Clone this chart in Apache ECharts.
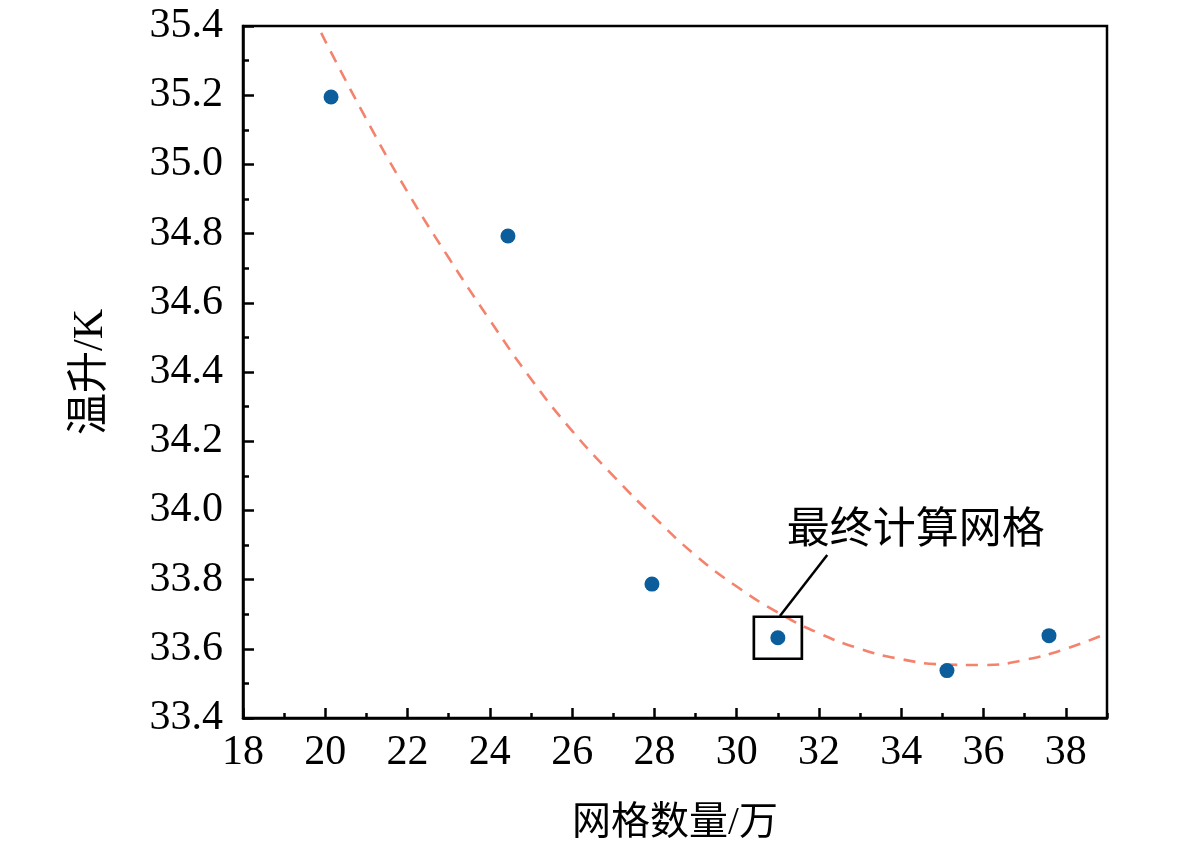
<!DOCTYPE html>
<html>
<head>
<meta charset="utf-8">
<script src="https://cdn.jsdelivr.net/npm/echarts@6/dist/echarts.min.js"></script>
<style>
  html, body { margin: 0; padding: 0; background: #fff; }
  #chart { width: 1182px; height: 852px; }
</style>
</head>
<body>
<div id="chart"></div>
<script>
// measured points: mesh count (10k) vs temperature rise (K)
const meshCount = [20.14, 24.44, 27.94, 31.0, 35.11, 37.59];
const tempRise = [35.195, 34.793, 33.787, 33.632, 33.537, 33.638];

// dashed fit curve
const fitX = [19.9, 21, 22, 23, 24, 25, 26, 27, 28, 29, 30, 31, 32, 33, 34, 35, 36, 37, 38, 39];
const fitY = [35.38, 35.13, 34.92, 34.73, 34.55, 34.38, 34.23, 34.10, 33.98, 33.87,
  33.78, 33.705, 33.645, 33.60, 33.57, 33.555, 33.553, 33.568, 33.60, 33.645];

// annotation for the chosen mesh
const markedPoint = [31.0, 33.632];
const leaderLine = [[31.05, 33.695], [32.2, 33.871]];
const noteText = "最终计算网格";
const notePos = [34.35, 33.938];

const xRange = [18, 39];
const yRange = [33.4, 35.4];

const serif = "'Liberation Serif', 'Times New Roman', 'Noto Sans CJK SC', serif";
const chart = echarts.init(document.getElementById("chart"));

const axisBase = {
  axisLine: { show: true, lineStyle: { color: "#000", width: 2.5 } },
  splitLine: { show: false },
};

chart.setOption({
  animation: false,
  grid: {
    left: 243,
    right: 75,
    top: 26,
    bottom: 134,
    show: true,
    borderColor: "#000",
    borderWidth: 2.5,
  },
  xAxis: [
    {
      ...axisBase,
      type: "value",
      min: xRange[0],
      max: xRange[1],
      interval: 2,
      name: "网格数量/万",
      nameLocation: "middle",
      nameGap: 86,
      nameTextStyle: { fontFamily: serif, fontSize: 39, color: "#000" },
      axisTick: { show: true, inside: true, length: 10, lineStyle: { color: "#000", width: 2.5 } },
      axisLabel: {
        fontFamily: serif,
        fontSize: 42,
        color: "#000",
        margin: 14,
        showMaxLabel: false,
      },
    },
    {
      // short minor ticks every 1
      type: "value",
      position: "bottom",
      min: xRange[0],
      max: xRange[1],
      interval: 1,
      axisLine: { show: false },
      splitLine: { show: false },
      axisLabel: { show: false },
      axisTick: { show: true, inside: true, length: 5, lineStyle: { color: "#000", width: 2.5 } },
    },
  ],
  yAxis: {
    ...axisBase,
    type: "value",
    min: yRange[0],
    max: yRange[1],
    interval: 0.2,
    name: "温升/K",
    nameLocation: "middle",
    nameGap: 131,
    nameTextStyle: { fontFamily: serif, fontSize: 42, color: "#000" },
    axisTick: { show: true, inside: true, length: 11, lineStyle: { color: "#000", width: 2.5 } },
    minorTick: { show: true, splitNumber: 2, length: 6, lineStyle: { color: "#000", width: 2.5 } },
    minorSplitLine: { show: false },
    axisLabel: {
      fontFamily: serif,
      fontSize: 42,
      color: "#000",
      margin: 20,
      formatter: (v) => v.toFixed(1),
    },
  },
  series: [
    {
      name: "fit",
      type: "line",
      xAxisIndex: 0,
      data: fitX.map((x, i) => [x, fitY[i]]),
      smooth: true,
      showSymbol: false,
      lineStyle: { color: "#F4836D", width: 2.6, type: [12, 9] },
      z: 2,
    },
    {
      name: "data",
      type: "scatter",
      xAxisIndex: 0,
      data: meshCount.map((x, i) => [x, tempRise[i]]),
      symbolSize: 15,
      itemStyle: { color: "#0B5E9B", opacity: 1 },
      z: 3,
      markPoint: {
        silent: true,
        data: [
          {
            coord: markedPoint,
            symbol: "rect",
            symbolSize: [48, 42],
            itemStyle: { color: "rgba(0,0,0,0)", borderColor: "#000", borderWidth: 2.5 },
            label: { show: false },
          },
          {
            coord: notePos,
            symbol: "circle",
            symbolSize: 1,
            itemStyle: { color: "rgba(0,0,0,0)" },
            label: {
              show: true,
              position: "inside",
              formatter: noteText,
              fontFamily: serif,
              fontSize: 43,
              color: "#000",
            },
          },
        ],
      },
      markLine: {
        silent: true,
        symbol: "none",
        label: { show: false },
        lineStyle: { color: "#000", width: 2.5, type: "solid" },
        data: [[{ coord: leaderLine[0] }, { coord: leaderLine[1] }]],
      },
    },
  ],
});
</script>
</body>
</html>
